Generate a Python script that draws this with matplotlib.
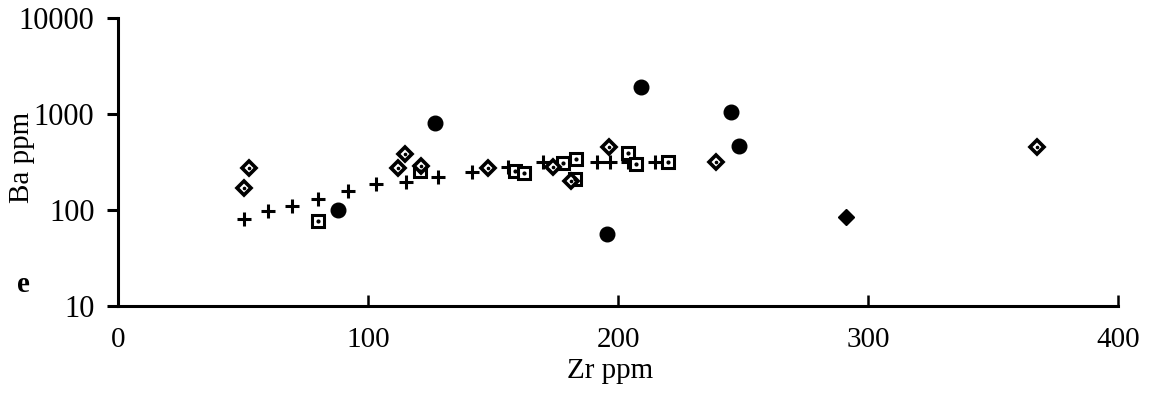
import matplotlib
matplotlib.use("Agg")
import matplotlib.pyplot as plt
from matplotlib.ticker import FixedLocator, NullLocator, FixedFormatter

plt.rcParams['font.family'] = ['Liberation Serif', 'DejaVu Serif']

# ---- data (Zr ppm, Ba ppm) ----
plus_zr = [50.4, 60, 69.6, 80, 92, 103.2, 115.2, 128, 141.6, 156, 170, 191.6, 196.8, 204, 214.8]
plus_ba = [80, 98, 110, 130, 158, 187, 196, 221, 249, 280, 316, 316, 316, 316, 316]

sq_zr = [80, 120.8, 158.8, 162.4, 178, 183.2, 182.8, 204, 207.2, 220]
sq_ba = [77, 255, 255, 243, 309, 340, 210, 392, 301, 316]

dia_zr = [52.4, 50.4, 114.8, 112, 121, 148, 174, 181, 196.4, 239.2, 367.6]
dia_ba = [274, 169, 383, 274, 290, 274, 280, 200, 453, 316, 453]

circ_zr = [88, 126.8, 209.2, 245.2, 248.4, 195.6]
circ_ba = [100, 806, 1910, 1050, 464, 56]

fdia_zr = [291.2]
fdia_ba = [84.5]

xticks = [0, 100, 200, 300, 400]
xticklabels = ["0", "100", "200", "300", "400"]
yticks = [10, 100, 1000, 10000]
yticklabels = ["10", "100", "1000", "10000"]

W, H = 1156, 396
fig = plt.figure(figsize=(W / 100, H / 100), dpi=100)
ax = fig.add_axes([118 / W, 1 - 306 / H, (1118 - 118) / W, (306 - 18) / H])

ax.set_yscale('log')
ax.set_xlim(0, 400)
ax.set_ylim(10, 10000)

# markers
ax.plot(plus_zr, plus_ba, linestyle='none', marker='+', markersize=10,
        markeredgewidth=2.2, color='black', zorder=3)
ax.plot(sq_zr, sq_ba, linestyle='none', marker='s', markersize=8.5,
        markerfacecolor='white', markeredgecolor='black', markeredgewidth=2.2, zorder=4)
ax.plot(sq_zr, sq_ba, linestyle='none', marker='o', markersize=2,
        color='black', zorder=5)
ax.plot(dia_zr, dia_ba, linestyle='none', marker='D', markersize=7.5,
        markerfacecolor='white', markeredgecolor='black', markeredgewidth=2.6, zorder=4)
ax.plot(dia_zr, dia_ba, linestyle='none', marker='o', markersize=1.6,
        color='black', zorder=5)
ax.plot(circ_zr, circ_ba, linestyle='none', marker='o', markersize=10.5,
        color='black', zorder=4)
ax.plot(fdia_zr, fdia_ba, linestyle='none', marker='D', markersize=8,
        color='black', zorder=4)

# spines
for s in ['top', 'right']:
    ax.spines[s].set_visible(False)
for s in ['left', 'bottom']:
    ax.spines[s].set_linewidth(2.2)

ax.xaxis.set_major_locator(FixedLocator(xticks))
ax.xaxis.set_major_formatter(FixedFormatter(xticklabels))
ax.yaxis.set_major_locator(FixedLocator(yticks))
ax.yaxis.set_major_formatter(FixedFormatter(yticklabels))
ax.yaxis.set_minor_locator(NullLocator())
ax.xaxis.set_minor_locator(NullLocator())

ax.tick_params(axis='x', direction='in', length=8, width=1.8, pad=15, labelsize=21)
ax.tick_params(axis='y', direction='out', length=8, width=2.2, pad=9, labelsize=22)

fig.text(610 / W, 1 - 378 / H, "Zr ppm", fontsize=21, ha='center', va='baseline')
fig.text(22 / W, 1 - 157 / H, "Ba ppm", rotation=90, fontsize=21,
         ha='center', va='center')
fig.text(23 / W, 1 - 285 / H, "e", fontsize=21, fontweight='bold',
         ha='center', va='center')

fig.savefig("out.png", dpi=100)
